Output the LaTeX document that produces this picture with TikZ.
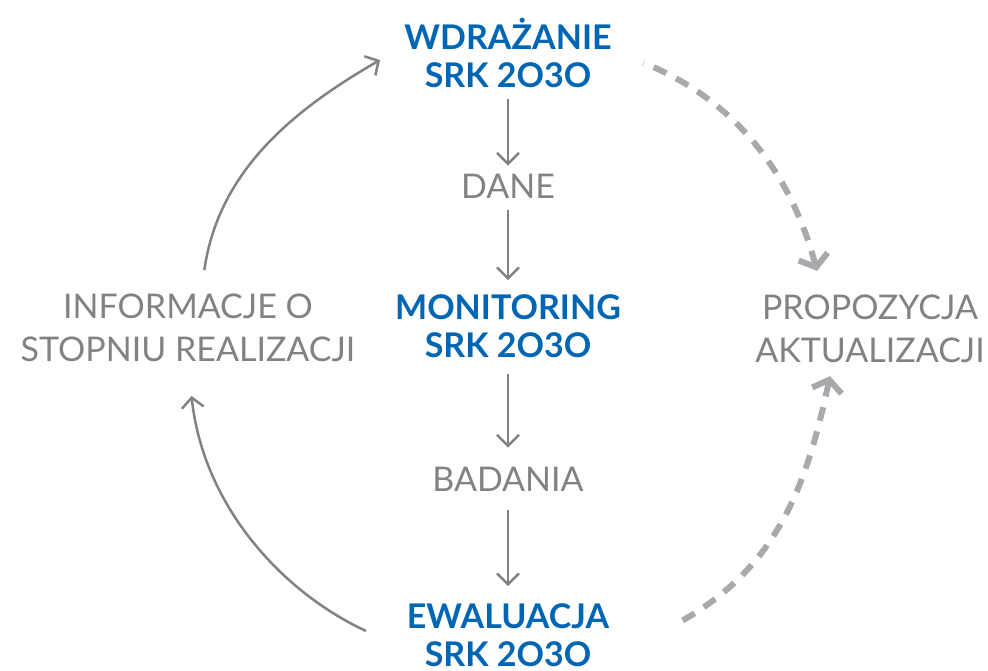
\documentclass[tikz,border=0pt]{standalone}
\usepackage{fontspec}
\setmainfont{Lato}
\usepackage{xcolor}
\usetikzlibrary{arrows.meta, positioning}
\definecolor{srkblue}{HTML}{0066B3}
\definecolor{srkgray}{HTML}{818285}
\definecolor{dashgray}{HTML}{A7A9AC}

\begin{document}
\begin{tikzpicture}[x=1pt, y=1pt,
  stage/.style={align=center, inner sep=0pt, text=srkblue, font=\fontsize{34}{38}\selectfont\bfseries},
  note/.style={align=center, inner sep=0pt, text=srkgray, font=\fontsize{34}{43}\selectfont},
  flow/.style={draw=srkgray, line width=2.5pt, -{Straight Barb[length=11pt, width=22pt]}},
  loop/.style={draw=srkgray, line width=2.5pt, -{Straight Barb[length=10pt, width=22pt]}},
  update/.style={draw=dashgray, line width=6pt, dash pattern=on 14pt off 11pt, {Straight Barb[length=11pt, width=30pt]}-},
  ]
  \useasboundingbox (0,0) rectangle (988,-671);
  % Stages in the middle column
  \node[stage] (wdr) at (508,-53) {WDRAŻANIE\\SRK 2O3O};
  \node[note] (dane) at (508,-186) {DANE};
  \node[stage] (mon) at (508,-326) {MONITORING\\SRK 2O3O};
  \node[note] (bad) at (508,-479) {BADANIA};
  \node[stage] (ewal) at (508,-635) {EWALUACJA\\SRK 2O3O};
  % Side notes
  \node[note] (info) at (188,-328) {INFORMACJE O\\STOPNIU REALIZACJI};
  \node[note] (prop) at (870,-329) {PROPOZYCJA\\AKTUALIZACJI};

  % Straight arrows
  \draw[flow, shorten <=11pt, shorten >=8pt] (wdr) -- (dane);
  \draw[flow, shorten <=12pt, shorten >=14pt] (dane) -- (mon);
  \draw[flow, shorten <=16pt, shorten >=19pt] (mon) -- (bad);
  \draw[flow, shorten <=19pt, shorten >=17pt] (bad) -- (ewal);

  % Feedback loop on the left
  \draw[loop, shorten <=24pt, shorten >=28pt] (info.north) ++(13,0) to[out=82, in=210] ([yshift=7pt]wdr.west);
  \draw[loop, shorten <=45pt, shorten >=34pt] ([yshift=-15pt]ewal.west) to[out=155, in=-84] (info.south);

  % Update proposal on the right (drawn from the tip back)
  \draw[update, shorten >=34pt] ([xshift=-53pt, yshift=24pt]prop.north) to[out=105, in=-22] ([yshift=3pt]wdr.east);
  \draw[update] ([xshift=-40pt, yshift=-13pt]prop.south) to[out=-102, in=28] ([xshift=65pt, yshift=10pt]ewal.east);
\end{tikzpicture}
\end{document}
